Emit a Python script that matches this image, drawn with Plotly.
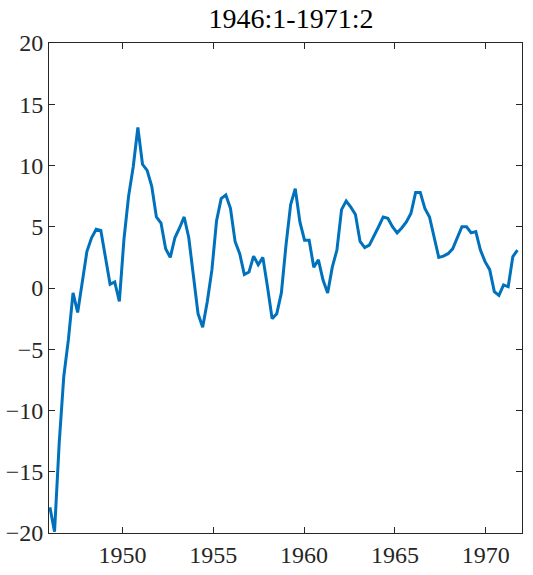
import numpy as np
import plotly.graph_objects as go

title_text = "1946:1-1971:2"

values = [
    -17.9, -19.9, -12.7, -7.2, -4.2, -0.4, -2.0, 0.5, 3.0, 4.1,
    4.8, 4.7, 2.5, 0.3, 0.5, -1.1, 4.0, 7.5, 9.9, 13.1,
    10.1, 9.6, 8.3, 5.8, 5.3, 3.2, 2.5, 4.1, 4.9, 5.8,
    4.1, 0.8, -2.1, -3.2, -1.1, 1.5, 5.5, 7.3, 7.6, 6.5,
    3.8, 2.8, 1.1, 1.3, 2.6, 1.9, 2.5, 0.1, -2.5, -2.1,
    -0.4, 3.5, 6.8, 8.1, 5.4, 3.9, 3.9, 1.7, 2.3, 0.65,
    -0.4, 1.7, 3.1, 6.4, 7.1, 6.6, 6.0, 3.8, 3.3, 3.5,
    4.2, 5.0, 5.8, 5.7, 5.0, 4.5, 4.9, 5.4, 6.1, 7.8,
    7.8, 6.5, 5.8, 4.2, 2.5, 2.6, 2.8, 3.2, 4.06, 5.0,
    5.0, 4.5, 4.6, 3.1, 2.15, 1.5, -0.3, -0.6, 0.25, 0.1,
    2.56, 3.1,
]

start_year = 1946
end_year = 1971.75
x_ticks = [1950, 1955, 1960, 1965, 1970]
y_ticks = [-20, -15, -10, -5, 0, 5, 10, 15, 20]

years = np.linspace(start_year, end_year, len(values))

fig = go.Figure()
fig.add_trace(go.Scatter(
    x=years, y=values, mode="lines",
    line=dict(color="#0072BD", width=3),
    hoverinfo="skip", showlegend=False,
))

font_family = "Liberation Serif"
axis_common = dict(
    showline=True, linecolor="#262626", linewidth=1, mirror="ticks",
    ticks="inside", ticklen=6, tickwidth=1, tickcolor="#262626",
    showgrid=False, zeroline=False, automargin=False,
    tickfont=dict(family=font_family, size=24, color="#262626"),
)

fig.update_layout(
    width=533, height=575, autosize=False,
    margin=dict(l=49, r=11, t=43, b=42, pad=0),
    paper_bgcolor="white", plot_bgcolor="white",
    title=dict(text=title_text, x=0.546, xanchor="center",
               y=0.969, yanchor="middle", yref="container", automargin=False,
               font=dict(family=font_family, size=28, color="#000000")),
    xaxis=dict(range=[1945.95, 1972], tickvals=x_ticks, **axis_common),
    yaxis=dict(range=[-20, 20], tickvals=y_ticks, **axis_common),
)

fig.write_html(
    "out.html",
    config={"displayModeBar": False, "staticPlot": True},
    post_script="document.body.style.margin='0';document.body.style.overflow='hidden';",
)
